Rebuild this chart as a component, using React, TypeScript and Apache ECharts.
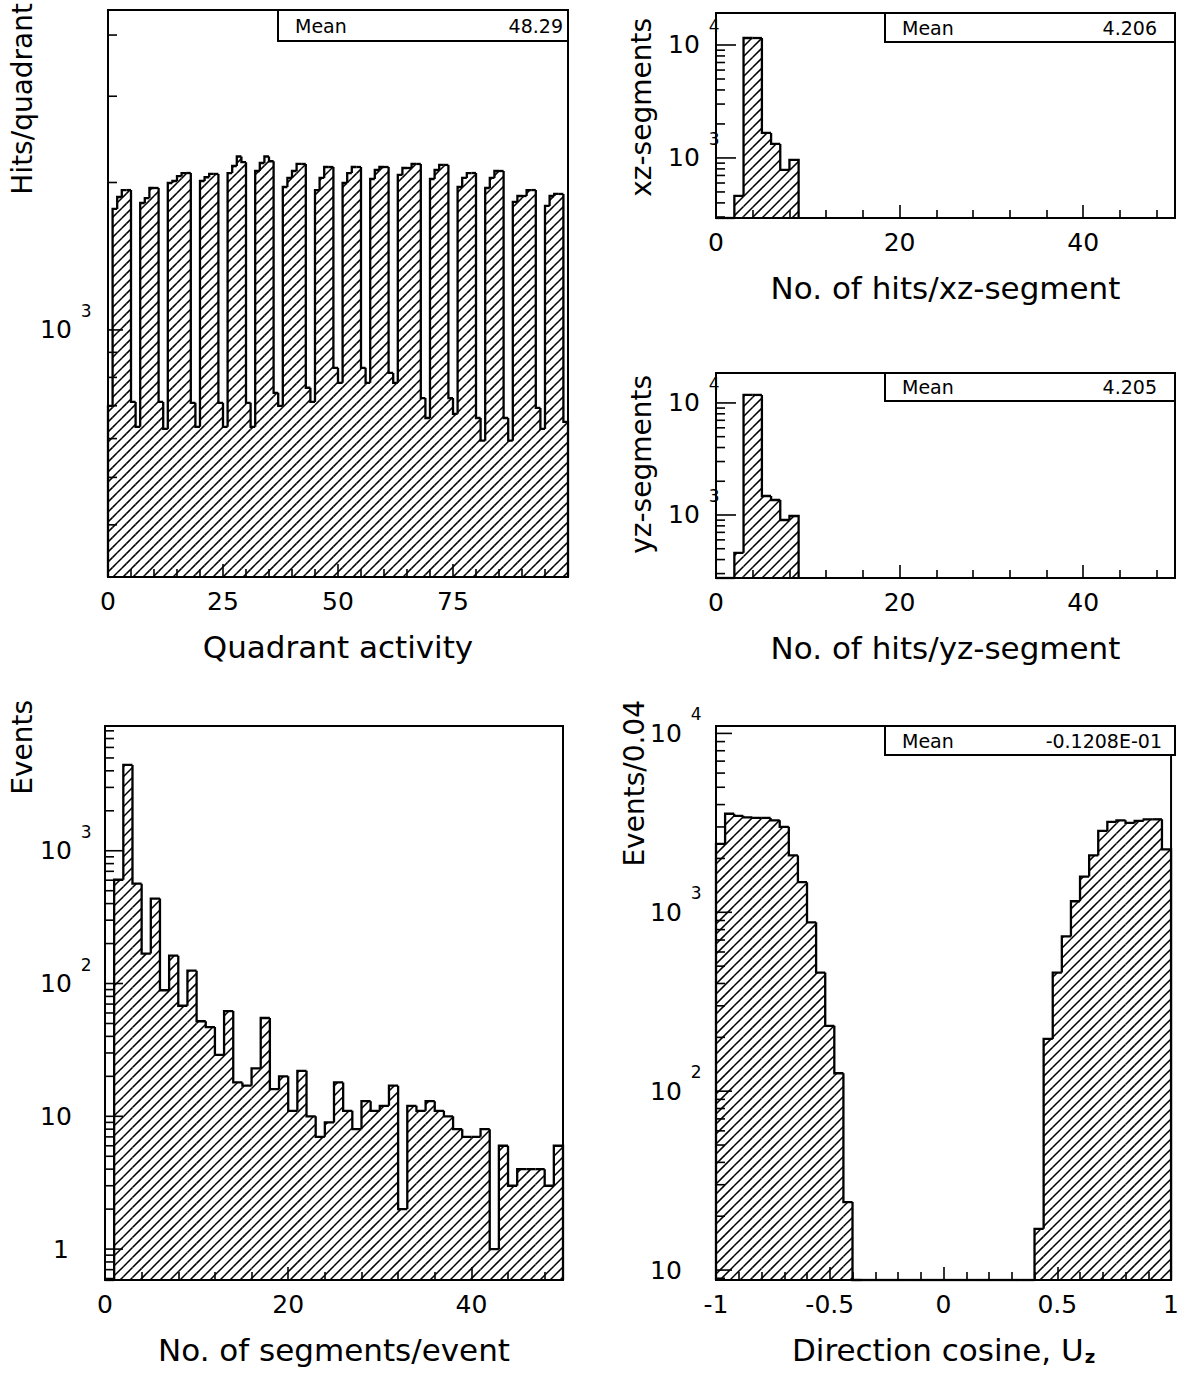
import React, { useEffect, useRef } from "react";
import * as echarts from "echarts";

const FONT = "'DejaVu Sans', 'Liberation Sans', sans-serif";

// ---------------- data ----------------
// Quadrant activity: bins of width 1 from 0 to 100
const quadrantBinStart = 0;
const quadrantBinWidth = 1;
const quadrantHits = [
  700,
  1766, 1868, 1930, 1930, 713, 634,
  1816, 1859, 1949, 1949, 713, 628,
  1995, 2014, 2060, 2091, 2091, 710, 634,
  2014, 2050, 2082, 2082, 710, 634,
  2091, 2161, 2260, 2200, 710, 634,
  2111, 2192, 2260, 2210, 744, 700,
  1958, 2043, 2111, 2182, 2182, 762, 713,
  1930, 2043, 2151, 2151, 837, 780,
  1995, 2091, 2151, 2151, 837, 780,
  2033, 2121, 2151, 2151, 817, 780,
  2072, 2141, 2141, 2182, 2182, 726, 661,
  2033, 2121, 2172, 2172, 726, 674,
  1958, 2043, 2091, 2091, 661, 594,
  1949, 2043, 2111, 2111, 661, 594,
  1825, 1877, 1877, 1930, 1930, 693, 628,
  1791, 1877, 1895, 1895,
  649,
];
const quadrantMean = "48.29";

// Hits per xz / yz segment: bins of width 1 starting at 0
const hitsBinStart = 0;
const hitsBinWidth = 1;
const xzHits = [0, 0, 461, 11530, 11530, 1664, 1330, 783, 960];
const yzHits = [0, 0, 460, 11790, 11790, 1477, 1361, 902, 980];
const xzMean = "4.206";
const yzMean = "4.205";

// Segments per event: bins of width 1 from 0 to 50
const segBinStart = 0;
const segBinWidth = 1;
const segmentsPerEvent = [
  0, 605, 4430, 565, 168, 436, 89, 162, 68, 125,
  52, 47, 29, 62, 18, 17, 23, 55, 16, 20,
  11, 22, 10, 7, 9, 18, 11, 8, 13, 11,
  12, 17, 2, 12, 11, 13, 11, 10, 8, 7,
  7, 8, 1, 6, 3, 4, 4, 4, 3, 6,
];

// Direction cosine Uz: bins of width 0.04 from -1 to 1
const cosBinStart = -1;
const cosBinWidth = 0.04;
const directionCosine = [
  2410, 3556, 3460, 3397, 3370, 3370, 3266, 3004, 2078, 1474,
  879, 460, 232, 126, 24,
  0, 0, 0, 0, 0, 0, 0, 0, 0, 0, 0, 0, 0, 0, 0, 0, 0, 0, 0, 0,
  17, 196, 460, 733, 1153, 1583, 2078, 2850, 3200, 3266,
  3161, 3245, 3310, 3310, 2245,
];
const cosMean = "-0.1208E-01";

// axis ranges [min, max, interval]
const quadrantX = [0, 100, 25];
const quadrantY = [313, 4500];
const hitsX = [0, 50, 20];
const xzY = [294, 19200];
const yzY = [274, 18500];
const segX = [0, 50, 20];
const segY = [0.585, 8700];
const cosX = [-1, 1, 0.5];
const cosY = [8.8, 11000];

// ---------------- helpers ----------------
const HATCH = 10;

function histItems(start: number, width: number, counts: number[]) {
  return counts.map((v, i) => [
    +(start + i * width).toFixed(6),
    +(start + (i + 1) * width).toFixed(6),
    v,
    i > 0 ? counts[i - 1] : 0,
    i === counts.length - 1 ? 1 : 0,
  ]);
}

function histRender(params: any, api: any) {
  const cs = params.coordSys;
  const x0 = api.value(0);
  const x1 = api.value(1);
  const v = api.value(2);
  const vp = api.value(3);
  const last = api.value(4);
  const top = cs.y;
  const base = cs.y + cs.height;
  const yOf = (val: number) => {
    if (!(val > 0)) return base;
    const p = api.coord([x0, val])[1];
    return Math.max(top, Math.min(base, p));
  };
  const px0 = api.coord([x0, 1])[0];
  const px1 = api.coord([x1, 1])[0];
  const yv = yOf(v);
  const yp = yOf(vp);
  let outline = `M${px0} ${yp}L${px0} ${yv}L${px1} ${yv}`;
  if (last) outline += `L${px1} ${base}`;
  let hatch = "";
  if (yv < base - 0.5) {
    const cStart = Math.ceil((px0 + yv) / HATCH) * HATCH;
    for (let c = cStart; c <= px1 + base; c += HATCH) {
      const xa = Math.max(px0, c - base);
      const xb = Math.min(px1, c - yv);
      if (xb > xa) hatch += `M${xa.toFixed(2)} ${(c - xa).toFixed(2)}L${xb.toFixed(2)} ${(c - xb).toFixed(2)}`;
    }
  }
  const children: any[] = [];
  if (hatch)
    children.push({
      type: "path",
      shape: { pathData: hatch },
      style: { fill: "none", stroke: "#000", lineWidth: 1.5 },
    });
  children.push({
    type: "path",
    shape: { pathData: outline },
    style: { fill: "none", stroke: "#000", lineWidth: 2.3 },
  });
  return { type: "group", children };
}

function logTicks(xMin: number, range: number[]) {
  const out: number[][] = [];
  const e0 = Math.floor(Math.log10(range[0]));
  const e1 = Math.ceil(Math.log10(range[1]));
  for (let e = e0; e <= e1; e++) {
    for (let k = 1; k <= 9; k++) {
      const v = +(k * Math.pow(10, e)).toPrecision(6);
      if (v >= range[0] && v <= range[1]) out.push([xMin, v, k === 1 ? 1 : 0]);
    }
  }
  return out;
}

function makeTickRender(majLen: number, minLen: number) {
  return (params: any, api: any) => {
    const cs = params.coordSys;
    const y = api.coord([api.value(0), api.value(1)])[1];
    const len = api.value(2) ? majLen : minLen;
    return {
      type: "line",
      shape: { x1: cs.x, y1: y, x2: cs.x + len, y2: y },
      style: { stroke: "#000", lineWidth: 1.6 },
    };
  };
}

const logLabel = (v: number) => {
  const e = Math.round(Math.log10(v));
  if (Math.abs(v / Math.pow(10, e) - 1) > 1e-6) return "";
  if (e === 0) return "{one|1}";
  if (e === 1) return "{b|10}";
  return "{b|10}{s|" + e + "}";
};

const yRich = {
  b: { fontSize: 25, fontFamily: FONT, color: "#000", padding: [15, 0, 15, 0] },
  s: { fontSize: 17, fontFamily: FONT, color: "#000", verticalAlign: "top", padding: [0, 0, 0, 9] },
  one: { fontSize: 25, fontFamily: FONT, color: "#000", padding: [15, 0, 15, 13] },
};

function xAxis(grid: number, r: number[], name: any, showMax: boolean, nameRich?: any) {
  return {
    type: "value",
    gridIndex: grid,
    min: r[0],
    max: r[1],
    interval: r[2],
    axisLine: { show: false },
    splitLine: { show: false },
    axisTick: { show: true, inside: true, length: 13, lineStyle: { color: "#000", width: 1.6 } },
    minorTick: { show: true, splitNumber: 5, length: 8, lineStyle: { color: "#000", width: 1.6 } },
    axisLabel: {
      fontSize: 25,
      fontFamily: FONT,
      color: "#000",
      margin: 12,
      showMaxLabel: showMax,
      formatter: (v: number) => String(v),
    },
    name,
    nameLocation: "middle",
    nameGap: 54,
    nameTextStyle: { fontSize: 31, fontFamily: FONT, color: "#000", rich: nameRich },
  };
}

function yAxis(grid: number, r: number[], margin: number) {
  return {
    type: "log",
    logBase: 10,
    gridIndex: grid,
    min: r[0],
    max: r[1],
    axisLine: { show: false },
    axisTick: { show: false },
    splitLine: { show: false },
    axisLabel: {
      align: "left",
      margin,
      formatter: logLabel,
      rich: yRich,
    },
  };
}

function histSeries(idx: number, items: any[]) {
  return {
    type: "custom",
    xAxisIndex: idx,
    yAxisIndex: idx,
    silent: true,
    encode: { x: [0, 1], y: 2 },
    data: items,
    renderItem: histRender,
  };
}

function tickSeries(idx: number, xMin: number, range: number[], maj: number, min: number) {
  return {
    type: "custom",
    xAxisIndex: idx,
    yAxisIndex: idx,
    silent: true,
    encode: { x: 0, y: 1 },
    data: logTicks(xMin, range),
    renderItem: makeTickRender(maj, min),
  };
}

function statBox(x: number, y: number, w: number, h: number, value: string, valueRight: number) {
  return [
    {
      type: "rect",
      shape: { x, y, width: w, height: h },
      style: { fill: "#fff", stroke: "#000", lineWidth: 2 },
      z: 10,
    },
    {
      type: "text",
      x: x + 17,
      y: y + h / 2,
      z: 11,
      style: {
        text: "Mean",
        fontSize: 19,
        fontFamily: FONT,
        fill: "#000",
        align: "left",
        verticalAlign: "middle",
        textAlign: "left",
        textVerticalAlign: "middle",
      },
    },
    {
      type: "text",
      x: valueRight,
      y: y + h / 2,
      z: 11,
      style: {
        text: value,
        fontSize: 19,
        fontFamily: FONT,
        fill: "#000",
        align: "right",
        verticalAlign: "middle",
        textAlign: "right",
        textVerticalAlign: "middle",
      },
    },
  ];
}

function yTitle(text: string, x: number, yTop: number) {
  return {
    type: "text",
    x,
    y: yTop,
    rotation: Math.PI / 2,
    style: {
      text,
      fontSize: 28,
      fontFamily: FONT,
      fill: "#000",
      align: "right",
      verticalAlign: "middle",
      textAlign: "right",
      textVerticalAlign: "middle",
    },
  };
}

function buildOption() {
  const gridBase = { show: true, borderColor: "#000", borderWidth: 2, backgroundColor: "transparent" };
  return {
    animation: false,
    backgroundColor: "#fff",
    textStyle: { fontFamily: FONT },
    grid: [
      { ...gridBase, left: 108, top: 10, width: 460, height: 567 },
      { ...gridBase, left: 716, top: 13, width: 459, height: 205 },
      { ...gridBase, left: 716, top: 373, width: 459, height: 205 },
      { ...gridBase, left: 105, top: 726, width: 458, height: 554 },
      { ...gridBase, left: 716, top: 726, width: 459, height: 554 },
    ],
    xAxis: [
      xAxis(0, quadrantX, "Quadrant activity", false),
      xAxis(1, hitsX, "No. of hits/xz-segment", false),
      xAxis(2, hitsX, "No. of hits/yz-segment", false),
      xAxis(3, segX, "No. of segments/event", false),
      xAxis(4, cosX, "{n|Direction cosine, U}{z|z}", true, {
        n: { fontSize: 31, fontFamily: FONT, color: "#000" },
        z: { fontSize: 18, fontFamily: FONT, color: "#000", fontWeight: "bold", verticalAlign: "bottom", padding: [0, 0, 0, 1] },
      }),
    ],
    yAxis: [
      yAxis(0, quadrantY, 68),
      yAxis(1, xzY, 48),
      yAxis(2, yzY, 48),
      yAxis(3, segY, 65),
      yAxis(4, cosY, 66),
    ],
    series: [
      histSeries(0, histItems(quadrantBinStart, quadrantBinWidth, quadrantHits)),
      histSeries(1, histItems(hitsBinStart, hitsBinWidth, xzHits)),
      histSeries(2, histItems(hitsBinStart, hitsBinWidth, yzHits)),
      histSeries(3, histItems(segBinStart, segBinWidth, segmentsPerEvent)),
      histSeries(4, histItems(cosBinStart, cosBinWidth, directionCosine)),
      tickSeries(0, quadrantX[0], quadrantY, 15, 9),
      tickSeries(1, hitsX[0], xzY, 20, 9),
      tickSeries(2, hitsX[0], yzY, 20, 9),
      tickSeries(3, segX[0], segY, 18, 9),
      tickSeries(4, cosX[0], cosY, 16, 9),
    ],
    graphic: [
      ...statBox(278, 10, 290, 31, quadrantMean, 563),
      ...statBox(885, 13, 290, 29, xzMean, 1157),
      ...statBox(885, 373, 290, 28, yzMean, 1157),
      ...statBox(885, 726, 290, 29, cosMean, 1162),
      yTitle("Hits/quadrant", 22, 3),
      yTitle("xz-segments", 641, 18),
      yTitle("yz-segments", 641, 375),
      yTitle("Events", 22, 700),
      yTitle("Events/0.04", 634, 700),
    ],
  };
}

export default function App() {
  const ref = useRef<HTMLDivElement>(null);
  useEffect(() => {
    const chart = echarts.init(ref.current!, null, { renderer: "svg" });
    chart.setOption(buildOption() as any);
    return () => chart.dispose();
  }, []);
  return (
    <div
      ref={ref}
      style={{ position: "absolute", left: 0, top: 0, width: 1182, height: 1373, background: "#fff" }}
    />
  );
}
